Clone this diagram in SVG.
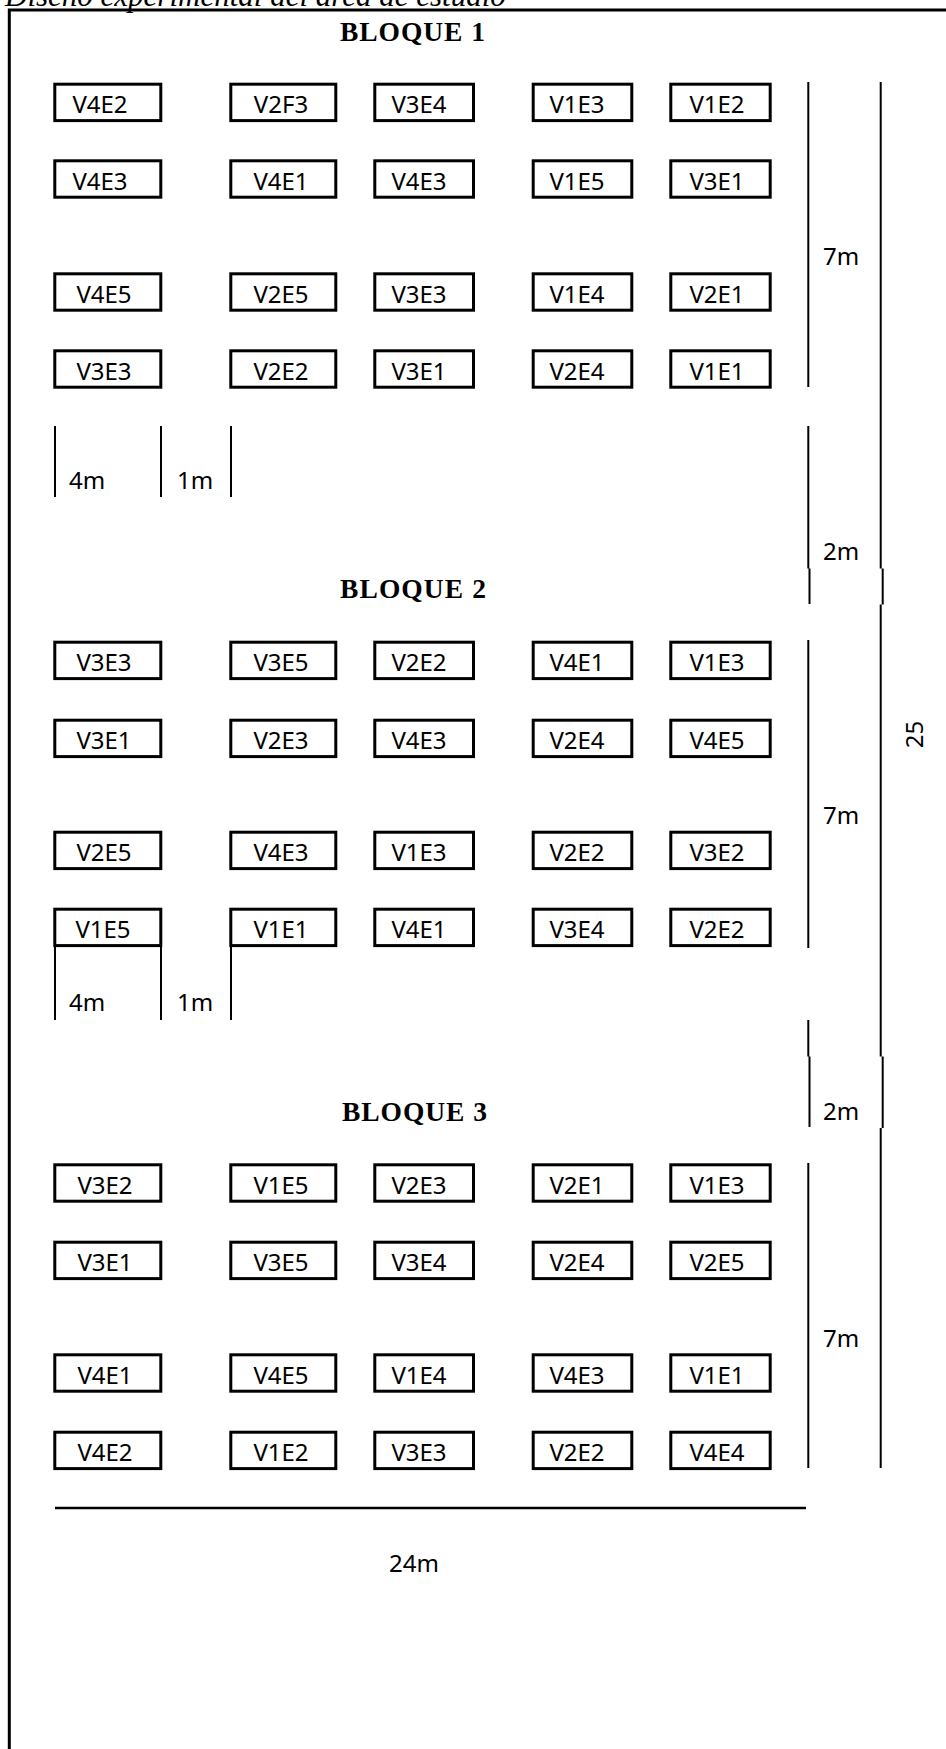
<svg xmlns="http://www.w3.org/2000/svg" width="946" height="1749" viewBox="0 0 946 1749">
<style>
.box{fill:#fff;stroke:#000;stroke-width:3}
.lbl{font-family:"Noto Sans","Open Sans",sans-serif;font-size:24px;fill:#000;text-anchor:middle}
.dim{font-family:"Noto Sans","Open Sans",sans-serif;font-size:24px;fill:#000}
.blk{font-family:"Liberation Serif","Times New Roman",serif;font-size:27.5px;font-weight:bold;fill:#000}
.ln{stroke:#000;stroke-width:2;fill:none}
</style>
<rect x="0" y="0" width="946" height="1749" fill="#fff"/>
<text x="5" y="6" font-family="Liberation Serif, serif" font-style="italic" font-size="31" fill="#000">Diseño experimental del área de estudio</text>
<path d="M9.3,1760 V10 H960" fill="none" stroke="#000" stroke-width="3"/>

<text class="blk" x="340" y="40.5" textLength="145">BLOQUE 1</text>
<text class="blk" x="340" y="598" textLength="146">BLOQUE 2</text>
<text class="blk" x="342" y="1121" textLength="145">BLOQUE 3</text>

<g id="b1r1">
<g id="n-b1-1-1"><rect class="box" x="54.8" y="84.2" width="106" height="36.4"/><text class="lbl" x="100" y="113.3">V4E2</text></g>
<g id="n-b1-1-2"><rect class="box" x="230.8" y="84.2" width="105" height="36.4"/><text class="lbl" x="281" y="113.3">V2F3</text></g>
<g id="n-b1-1-3"><rect class="box" x="374.8" y="84.2" width="98.7" height="36.4"/><text class="lbl" x="419" y="113.3">V3E4</text></g>
<g id="n-b1-1-4"><rect class="box" x="533.2" y="84.2" width="98.6" height="36.4"/><text class="lbl" x="577" y="113.3">V1E3</text></g>
<g id="n-b1-1-5"><rect class="box" x="670.8" y="84.2" width="99.4" height="36.4"/><text class="lbl" x="717" y="113.3">V1E2</text></g>
</g>
<g id="b1r2">
<g id="n-b1-2-1"><rect class="box" x="54.8" y="160.8" width="106" height="36.4"/><text class="lbl" x="100" y="189.9">V4E3</text></g>
<g id="n-b1-2-2"><rect class="box" x="230.8" y="160.8" width="105" height="36.4"/><text class="lbl" x="281" y="189.9">V4E1</text></g>
<g id="n-b1-2-3"><rect class="box" x="374.8" y="160.8" width="98.7" height="36.4"/><text class="lbl" x="419" y="189.9">V4E3</text></g>
<g id="n-b1-2-4"><rect class="box" x="533.2" y="160.8" width="98.6" height="36.4"/><text class="lbl" x="577" y="189.9">V1E5</text></g>
<g id="n-b1-2-5"><rect class="box" x="670.8" y="160.8" width="99.4" height="36.4"/><text class="lbl" x="717" y="189.9">V3E1</text></g>
</g>
<g id="b1r3">
<g id="n-b1-3-1"><rect class="box" x="54.8" y="273.8" width="106" height="36.4"/><text class="lbl" x="104" y="302.9">V4E5</text></g>
<g id="n-b1-3-2"><rect class="box" x="230.8" y="273.8" width="105" height="36.4"/><text class="lbl" x="281" y="302.9">V2E5</text></g>
<g id="n-b1-3-3"><rect class="box" x="374.8" y="273.8" width="98.7" height="36.4"/><text class="lbl" x="419" y="302.9">V3E3</text></g>
<g id="n-b1-3-4"><rect class="box" x="533.2" y="273.8" width="98.6" height="36.4"/><text class="lbl" x="577" y="302.9">V1E4</text></g>
<g id="n-b1-3-5"><rect class="box" x="670.8" y="273.8" width="99.4" height="36.4"/><text class="lbl" x="717" y="302.9">V2E1</text></g>
</g>
<g id="b1r4">
<g id="n-b1-4-1"><rect class="box" x="54.8" y="350.8" width="106" height="36.4"/><text class="lbl" x="104" y="379.9">V3E3</text></g>
<g id="n-b1-4-2"><rect class="box" x="230.8" y="350.8" width="105" height="36.4"/><text class="lbl" x="281" y="379.9">V2E2</text></g>
<g id="n-b1-4-3"><rect class="box" x="374.8" y="350.8" width="98.7" height="36.4"/><text class="lbl" x="419" y="379.9">V3E1</text></g>
<g id="n-b1-4-4"><rect class="box" x="533.2" y="350.8" width="98.6" height="36.4"/><text class="lbl" x="577" y="379.9">V2E4</text></g>
<g id="n-b1-4-5"><rect class="box" x="670.8" y="350.8" width="99.4" height="36.4"/><text class="lbl" x="717" y="379.9">V1E1</text></g>
</g>

<g id="b2r1">
<g id="n-b2-1-1"><rect class="box" x="54.8" y="642.2" width="106" height="36.4"/><text class="lbl" x="104" y="671.3">V3E3</text></g>
<g id="n-b2-1-2"><rect class="box" x="230.8" y="642.2" width="105" height="36.4"/><text class="lbl" x="281" y="671.3">V3E5</text></g>
<g id="n-b2-1-3"><rect class="box" x="374.8" y="642.2" width="98.7" height="36.4"/><text class="lbl" x="419" y="671.3">V2E2</text></g>
<g id="n-b2-1-4"><rect class="box" x="533.2" y="642.2" width="98.6" height="36.4"/><text class="lbl" x="577" y="671.3">V4E1</text></g>
<g id="n-b2-1-5"><rect class="box" x="670.8" y="642.2" width="99.4" height="36.4"/><text class="lbl" x="717" y="671.3">V1E3</text></g>
</g>
<g id="b2r2">
<g id="n-b2-2-1"><rect class="box" x="54.8" y="720.2" width="106" height="36.4"/><text class="lbl" x="104" y="749.3">V3E1</text></g>
<g id="n-b2-2-2"><rect class="box" x="230.8" y="720.2" width="105" height="36.4"/><text class="lbl" x="281" y="749.3">V2E3</text></g>
<g id="n-b2-2-3"><rect class="box" x="374.8" y="720.2" width="98.7" height="36.4"/><text class="lbl" x="419" y="749.3">V4E3</text></g>
<g id="n-b2-2-4"><rect class="box" x="533.2" y="720.2" width="98.6" height="36.4"/><text class="lbl" x="577" y="749.3">V2E4</text></g>
<g id="n-b2-2-5"><rect class="box" x="670.8" y="720.2" width="99.4" height="36.4"/><text class="lbl" x="717" y="749.3">V4E5</text></g>
</g>
<g id="b2r3">
<g id="n-b2-3-1"><rect class="box" x="54.8" y="832.2" width="106" height="36.4"/><text class="lbl" x="104" y="861.3">V2E5</text></g>
<g id="n-b2-3-2"><rect class="box" x="230.8" y="832.2" width="105" height="36.4"/><text class="lbl" x="281" y="861.3">V4E3</text></g>
<g id="n-b2-3-3"><rect class="box" x="374.8" y="832.2" width="98.7" height="36.4"/><text class="lbl" x="419" y="861.3">V1E3</text></g>
<g id="n-b2-3-4"><rect class="box" x="533.2" y="832.2" width="98.6" height="36.4"/><text class="lbl" x="577" y="861.3">V2E2</text></g>
<g id="n-b2-3-5"><rect class="box" x="670.8" y="832.2" width="99.4" height="36.4"/><text class="lbl" x="717" y="861.3">V3E2</text></g>
</g>
<g id="b2r4">
<g id="n-b2-4-1"><rect class="box" x="54.8" y="909.2" width="106" height="36.4"/><text class="lbl" x="103" y="938.3">V1E5</text></g>
<g id="n-b2-4-2"><rect class="box" x="230.8" y="909.2" width="105" height="36.4"/><text class="lbl" x="281" y="938.3">V1E1</text></g>
<g id="n-b2-4-3"><rect class="box" x="374.8" y="909.2" width="98.7" height="36.4"/><text class="lbl" x="419" y="938.3">V4E1</text></g>
<g id="n-b2-4-4"><rect class="box" x="533.2" y="909.2" width="98.6" height="36.4"/><text class="lbl" x="577" y="938.3">V3E4</text></g>
<g id="n-b2-4-5"><rect class="box" x="670.8" y="909.2" width="99.4" height="36.4"/><text class="lbl" x="717" y="938.3">V2E2</text></g>
</g>

<g id="b3r1">
<g id="n-b3-1-1"><rect class="box" x="54.8" y="1164.8" width="106" height="36.4"/><text class="lbl" x="105" y="1193.9">V3E2</text></g>
<g id="n-b3-1-2"><rect class="box" x="230.8" y="1164.8" width="105" height="36.4"/><text class="lbl" x="281" y="1193.9">V1E5</text></g>
<g id="n-b3-1-3"><rect class="box" x="374.8" y="1164.8" width="98.7" height="36.4"/><text class="lbl" x="419" y="1193.9">V2E3</text></g>
<g id="n-b3-1-4"><rect class="box" x="533.2" y="1164.8" width="98.6" height="36.4"/><text class="lbl" x="577" y="1193.9">V2E1</text></g>
<g id="n-b3-1-5"><rect class="box" x="670.8" y="1164.8" width="99.4" height="36.4"/><text class="lbl" x="717" y="1193.9">V1E3</text></g>
</g>
<g id="b3r2">
<g id="n-b3-2-1"><rect class="box" x="54.8" y="1242.2" width="106" height="36.4"/><text class="lbl" x="105" y="1271.3">V3E1</text></g>
<g id="n-b3-2-2"><rect class="box" x="230.8" y="1242.2" width="105" height="36.4"/><text class="lbl" x="281" y="1271.3">V3E5</text></g>
<g id="n-b3-2-3"><rect class="box" x="374.8" y="1242.2" width="98.7" height="36.4"/><text class="lbl" x="419" y="1271.3">V3E4</text></g>
<g id="n-b3-2-4"><rect class="box" x="533.2" y="1242.2" width="98.6" height="36.4"/><text class="lbl" x="577" y="1271.3">V2E4</text></g>
<g id="n-b3-2-5"><rect class="box" x="670.8" y="1242.2" width="99.4" height="36.4"/><text class="lbl" x="717" y="1271.3">V2E5</text></g>
</g>
<g id="b3r3">
<g id="n-b3-3-1"><rect class="box" x="54.8" y="1354.8" width="106" height="36.4"/><text class="lbl" x="105" y="1383.9">V4E1</text></g>
<g id="n-b3-3-2"><rect class="box" x="230.8" y="1354.8" width="105" height="36.4"/><text class="lbl" x="281" y="1383.9">V4E5</text></g>
<g id="n-b3-3-3"><rect class="box" x="374.8" y="1354.8" width="98.7" height="36.4"/><text class="lbl" x="419" y="1383.9">V1E4</text></g>
<g id="n-b3-3-4"><rect class="box" x="533.2" y="1354.8" width="98.6" height="36.4"/><text class="lbl" x="577" y="1383.9">V4E3</text></g>
<g id="n-b3-3-5"><rect class="box" x="670.8" y="1354.8" width="99.4" height="36.4"/><text class="lbl" x="717" y="1383.9">V1E1</text></g>
</g>
<g id="b3r4">
<g id="n-b3-4-1"><rect class="box" x="54.8" y="1432.2" width="106" height="36.4"/><text class="lbl" x="105" y="1461.3">V4E2</text></g>
<g id="n-b3-4-2"><rect class="box" x="230.8" y="1432.2" width="105" height="36.4"/><text class="lbl" x="281" y="1461.3">V1E2</text></g>
<g id="n-b3-4-3"><rect class="box" x="374.8" y="1432.2" width="98.7" height="36.4"/><text class="lbl" x="419" y="1461.3">V3E3</text></g>
<g id="n-b3-4-4"><rect class="box" x="533.2" y="1432.2" width="98.6" height="36.4"/><text class="lbl" x="577" y="1461.3">V2E2</text></g>
<g id="n-b3-4-5"><rect class="box" x="670.8" y="1432.2" width="99.4" height="36.4"/><text class="lbl" x="717" y="1461.3">V4E4</text></g>
</g>

<g id="connectors">
<path class="ln" d="M55,426 V497 M161,426 V497 M231,426 V497"/>
<path class="ln" d="M55,947 V1020 M161,947 V1020 M231,947 V1020"/>
<path class="ln" d="M808.3,82 V387 M808.3,426 V568.5 M809.5,568.5 V604"/>
<path class="ln" d="M808.3,640 V948 M808.3,1020 V1056.5 M809.5,1056.5 V1127"/>
<path class="ln" d="M808.3,1163 V1468"/>
<path class="ln" d="M880.7,82 V568.5 M882.7,568.5 V604.5 M880.7,604.5 V1056.5 M882.7,1056.5 V1128 M880.7,1128 V1468"/>
<path d="M55,1508 H806" fill="none" stroke="#000" stroke-width="2.5"/>
</g>

<g id="dims">
<text class="dim" x="69" y="489">4m</text>
<text class="dim" x="177" y="489">1m</text>
<text class="dim" x="69" y="1011">4m</text>
<text class="dim" x="177" y="1011">1m</text>
<text class="dim" x="823" y="265">7m</text>
<text class="dim" x="823" y="560">2m</text>
<text class="dim" x="823" y="824">7m</text>
<text class="dim" x="823" y="1120">2m</text>
<text class="dim" x="823" y="1347">7m</text>
<text class="dim" x="389" y="1571.5">24m</text>
<text class="dim" text-anchor="middle" transform="translate(922.5,734.5) rotate(-90)">25</text>
</g>
</svg>
